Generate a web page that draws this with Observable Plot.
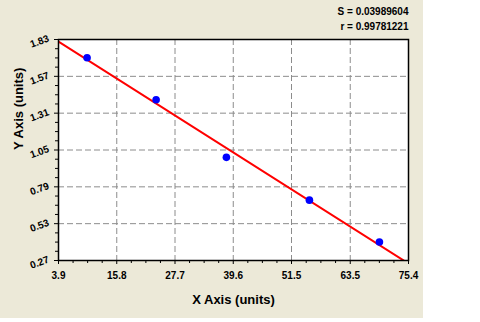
<!DOCTYPE html>
<html>
<head>
<meta charset="utf-8">
<script src="https://cdn.jsdelivr.net/npm/d3@7"></script>
<script src="https://cdn.jsdelivr.net/npm/@observablehq/plot@0.6"></script>
<style>
  html, body { margin: 0; padding: 0; background: white; }
</style>
</head>
<body>
<div id="chart"></div>
<script>
// Data
const xValues = [9.74, 23.84, 38.2, 55.16, 69.46];
const yValues = [1.701, 1.405, 0.998, 0.696, 0.401];
const xTicks = [3.9, 15.8, 27.7, 39.6, 51.5, 63.5, 75.4];
const yTicks = [0.27, 0.53, 0.79, 1.05, 1.31, 1.57, 1.83];
const statLines = ["S = 0.03989604", "r = 0.99781221"];
const xTitle = "X Axis (units)";
const yTitle = "Y Axis (units)";

const points = xValues.map((x, i) => ({x, y: yValues[i]}));

// least-squares fit of the points
const mx = d3.mean(xValues), my = d3.mean(yValues);
const slope = d3.sum(points, p => (p.x - mx) * (p.y - my)) / d3.sum(points, p => (p.x - mx) ** 2);
const intercept = my - slope * mx;
const xDomain = [xTicks[0], xTicks[xTicks.length - 1]];
const yDomain = [yTicks[0], yTicks[yTicks.length - 1]];
const fitLine = xDomain.map(x => ({x, y: intercept + slope * x}));

// minor ticks: 3 between each pair of majors
const minor = t => d3.pairs(t).flatMap(([a, b]) => [1, 2, 3].map(k => a + (b - a) * k / 4));
const xMinor = minor(xTicks);
const yMinor = minor(yTicks);

const font = "'Liberation Sans', Arial, sans-serif";

const chart = Plot.plot({
  width: 480,
  height: 322,
  marginLeft: 58,
  marginRight: 72,
  marginTop: 39,
  marginBottom: 62,
  style: {
    fontFamily: font,
    fontSize: "10px",
    fontWeight: "bold",
    color: "black",
    background: "linear-gradient(#ECE9D8, #ECE9D8) no-repeat 0 0 / 423px 318px, white"
  },
  x: {domain: xDomain},
  y: {domain: yDomain},
  marks: [
    Plot.frame({fill: "white", stroke: null}),
    Plot.gridX(xTicks.slice(1, -1), {stroke: "#8c8c8c", strokeOpacity: 1, strokeDasharray: "6,3"}),
    Plot.gridY(yTicks.slice(1, -1), {stroke: "#8c8c8c", strokeOpacity: 1, strokeDasharray: "6,3"}),
    Plot.axisX({ticks: xMinor, tickSize: 3, tickFormat: () => "", label: null}),
    Plot.axisX({ticks: xTicks, tickSize: 4, tickPadding: 7, tickFormat: d => d.toFixed(1), label: null, fontSize: 10, fontWeight: "bold"}),
    Plot.axisY({ticks: yMinor, tickSize: 3, tickFormat: () => "", label: null}),
    Plot.axisY({ticks: yTicks, tickSize: 4, tickFormat: () => "", label: null}),
    Plot.text(yTicks, {
      y: d => d, text: d => d.toFixed(2), frameAnchor: "left",
      dx: -19, dy: 2, rotate: -20, textAnchor: "middle",
      fontSize: 10, fontWeight: "bold"
    }),
    Plot.line(fitLine, {x: "x", y: "y", stroke: "#FF0000", strokeWidth: 2, clip: true}),
    Plot.dot(points, {x: "x", y: "y", r: 3.8, fill: "#0000FF", stroke: null}),
    Plot.frame({stroke: "black", strokeWidth: 1.5}),
    Plot.text([statLines.join("\n")], {
      frameAnchor: "top-right", textAnchor: "end", lineAnchor: "top",
      dy: -35, lineHeight: 1.5, fontSize: 10, fontWeight: "bold"
    }),
    Plot.text([xTitle], {frameAnchor: "bottom", dy: 43, fontSize: 13, fontWeight: "bold"}),
    Plot.text([yTitle], {frameAnchor: "left", dx: -40, rotate: -90, fontSize: 13, fontWeight: "bold"})
  ]
});

document.getElementById("chart").appendChild(chart);
</script>
</body>
</html>
